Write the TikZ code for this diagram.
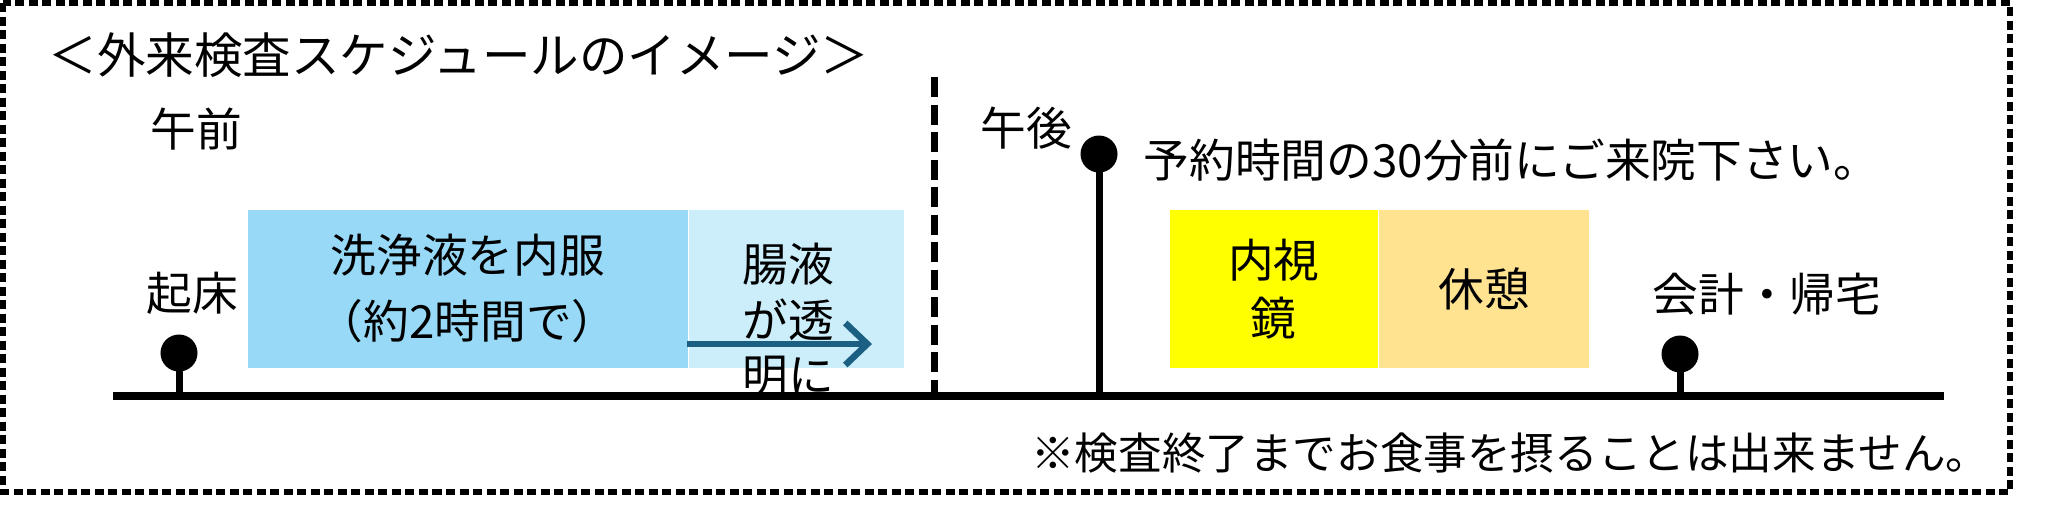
\documentclass[tikz,border=0pt]{standalone}
\usepackage{fontspec}
\setmainfont{Noto Sans CJK JP}
\usetikzlibrary{positioning,arrows.meta}
\definecolor{washblue}{HTML}{97D9F6}
\definecolor{clearblue}{HTML}{CCEEFB}
\definecolor{scopeyellow}{HTML}{FFFF00}
\definecolor{restorange}{HTML}{FFE391}
\definecolor{arrowblue}{HTML}{1B5F82}
\begin{document}
\begin{tikzpicture}[x=0.01cm, y=-0.01cm,
		txt/.style = {inner sep=0pt, align=center, font=\fontsize{13pt}{16pt}\selectfont},
		box/.style = {inner sep=0pt, minimum height=1.58cm, anchor=north west},
		dot/.style = {circle, fill, inner sep=0pt, minimum size=0.37cm},
		stem/.style = {line width=0.07cm},
		frame/.style = {line width=0.055cm, dash pattern=on 0.09cm off 0.045cm}]
		\useasboundingbox (0,0) rectangle (2052,508);
		\draw[frame] (3,3) rectangle (2010,492);
		\node[txt, anchor=west, font=\fontsize{13.8pt}{16pt}\selectfont] (title) at (48,55) {＜外来検査スケジュールのイメージ＞};
		\node[txt] (am) at (196,129) {午前};
		\node[txt] (pm) at (1026,128) {午後};
		\coordinate (tl) at (113,396);
		\coordinate (tr) at (1944,396);
		\coordinate (noon) at (934,77);
		\node[box, fill=washblue, minimum width=4.4cm, font=\fontsize{13pt}{18.8pt}\selectfont, align=center] (wash) at (247,209) {洗浄液を内服\\（約2時間で）};
		\node[box, fill=clearblue, minimum width=2.14cm] (clear) [right=0pt of wash] {};
		\node[box, fill=scopeyellow, minimum width=2.08cm, font=\fontsize{13pt}{16.5pt}\selectfont, align=center] (scope) at (1169,209) {内視\\鏡};
		\node[box, fill=restorange, minimum width=2.1cm, font=\fontsize{13pt}{16pt}\selectfont] (rest) [right=0pt of scope] {休憩};
		\coordinate (a1) at (687,344);
		\coordinate (a2) at (872,344);
		\draw[arrowblue, line width=0.065cm, -{Straight Barb[length=0.22cm, width=0.42cm]}] (a1) -- (a2);
		\node[txt, font=\fontsize{13pt}{15.8pt}\selectfont] (cleartxt) at (788,320) {腸液\\が透\\明に};
		\draw[line width=0.08cm] (tl) -- (tr);
		\draw[line width=0.07cm, dash pattern=on 0.2cm off 0.075cm] (noon) -- (noon |- tl);
		\node[dot] (wake) at (179,353) {};
		\node[dot] (visit) at (1099,154) {};
		\node[dot] (home) at (1680,354) {};
		\draw[stem] (wake.center) -- (wake |- tl);
		\draw[stem] (visit.center) -- (visit |- tl);
		\draw[stem] (home.center) -- (home |- tl);
		\node[txt] (wakelbl) at (192,293) {起床};
		\node[txt, anchor=west] (visitlbl) at (1143,160) {予約時間の30分前にご来院下さい。};
		\node[txt] (homelbl) at (1767,294) {会計・帰宅};
		\node[txt, anchor=east, font=\fontsize{12.4pt}{16pt}\selectfont] (note) at (1990,453) {※検査終了までお食事を摂ることは出来ません。};
	\end{tikzpicture}
\end{document}
